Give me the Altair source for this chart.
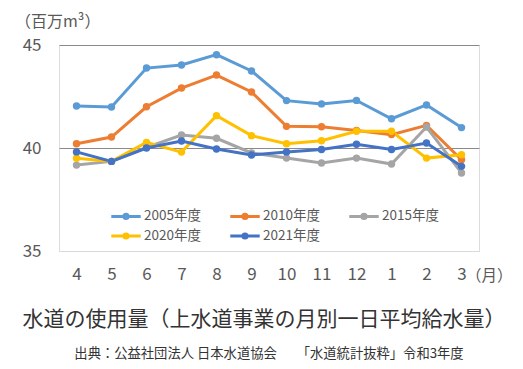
import altair as alt
import pandas as pd

months = ["4", "5", "6", "7", "8", "9", "10", "11", "12", "1", "2", "3"]
series_names = ["2005年度", "2010年度", "2015年度", "2020年度", "2021年度"]
colors = ["#5B9BD5", "#ED7D31", "#A5A5A5", "#FFC000", "#4472C4"]

v2005 = [42.04, 41.99, 43.88, 44.03, 44.53, 43.74, 42.30, 42.14, 42.31, 41.42, 42.09, 40.99]
v2010 = [40.21, 40.53, 42.00, 42.91, 43.54, 42.72, 41.05, 41.03, 40.85, 40.65, 41.10, 39.43]
v2015 = [39.17, 39.35, 40.03, 40.63, 40.47, 39.76, 39.51, 39.27, 39.51, 39.22, 41.02, 38.79]
v2020 = [39.50, 39.35, 40.27, 39.80, 41.57, 40.60, 40.21, 40.35, 40.81, 40.81, 39.51, 39.67]
v2021 = [39.81, 39.35, 40.00, 40.34, 39.95, 39.66, 39.81, 39.93, 40.18, 39.93, 40.24, 39.11]

y_ticks = [35, 40, 45]

title_text = "水道の使用量（上水道事業の月別一日平均給水量）"
source_text = "出典：公益社団法人 日本水道協会　　「水道統計抜粋」令和3年度"
unit_text = "（百万m³）"
month_unit = "（月）"

rows = []
for name, vals in zip(series_names, [v2005, v2010, v2015, v2020, v2021]):
    for m, v in zip(months, vals):
        rows.append({"month": m, "value": v, "series": name})
df = pd.DataFrame(rows)

FONT = "Noto Sans CJK JP"
W, H = 420, 206

legend_symbol = ("M-1.55,0L1.55,0M-0.22,0a0.22,0.22 0 1,0 0.44,0"
                 "a0.22,0.22 0 1,0 -0.44,0Z")

base = alt.Chart(df)
lines = base.mark_line(strokeWidth=3, point=alt.OverlayMarkDef(filled=True, size=55)).encode(
    x=alt.X("month:N", sort=months,
            scale=alt.Scale(paddingInner=0, paddingOuter=0.5),
            axis=alt.Axis(title=None, labelAngle=0, domain=False, ticks=False,
                          labelFontSize=17, labelColor="#595959", labelFont=FONT,
                          labelPadding=15)),
    y=alt.Y("value:Q", scale=alt.Scale(domain=[35, 45], nice=False, zero=False),
            axis=alt.Axis(title=None, values=y_ticks, domain=False, ticks=False,
                          labelFontSize=17, labelColor="#595959", labelFont=FONT,
                          labelPadding=18,
                          gridColor={"condition": {"test": "datum.value == 35", "value": "#d9d9d9"},
                                     "value": "#8a8a8a"},
                          gridWidth=1)),
    color=alt.Color("series:N", sort=series_names,
                    scale=alt.Scale(domain=series_names, range=colors),
                    legend=alt.Legend(title=None, orient="none", legendX=56, legendY=160,
                                      direction="horizontal", columns=3,
                                      symbolType=legend_symbol, symbolSize=361,
                                      symbolStrokeWidth=3, labelFontSize=13.5, labelFont=FONT,
                                      labelColor="#595959", labelOffset=7, columnPadding=23,
                                      rowPadding=0)),
)

labels_df = pd.DataFrame({"t": [unit_text, month_unit, title_text, source_text],
                          "k": ["unit", "month", "title", "source"]})

unit = alt.Chart(labels_df).transform_filter("datum.k == 'unit'").mark_text(
    align="left", baseline="middle", fontSize=16, font=FONT, color="#595959"
).encode(x=alt.value(-44), y=alt.value(-23), text="t:N")

month_lbl = alt.Chart(labels_df).transform_filter("datum.k == 'month'").mark_text(
    align="left", baseline="middle", fontSize=15.5, font=FONT, color="#595959"
).encode(x=alt.value(407), y=alt.value(231), text="t:N")

title = alt.Chart(labels_df).transform_filter("datum.k == 'title'").mark_text(
    align="center", baseline="middle", fontSize=21, font=FONT, color="#333333"
).encode(x=alt.value(205), y=alt.value(275), text="t:N")

source = alt.Chart(labels_df).transform_filter("datum.k == 'source'").mark_text(
    align="center", baseline="middle", fontSize=13.3, font=FONT, color="#333333"
).encode(x=alt.value(210), y=alt.value(309), text="t:N")

chart = alt.layer(lines, unit, month_lbl, title, source).properties(
    width=W, height=H,
    autosize=alt.AutoSizeParams(type="none"),
    padding={"left": 51, "top": 37, "right": 36, "bottom": 110},
).configure_view(stroke=None).configure(background="white")

chart.save("out.html", embed_options={"renderer": "svg", "actions": False})
